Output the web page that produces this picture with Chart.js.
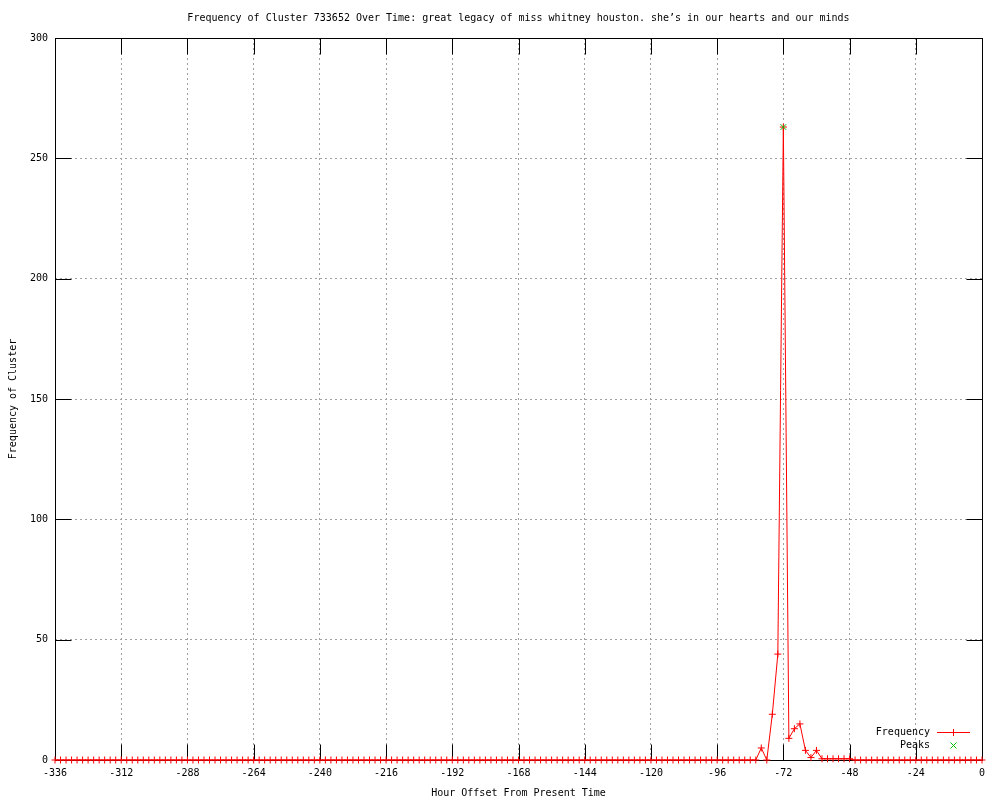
<!DOCTYPE html>
<html>
<head>
<meta charset="utf-8">
<title>Frequency of Cluster 733652</title>
<script src="https://cdn.jsdelivr.net/npm/chart.js@4.4.1/dist/chart.umd.min.js"></script>
<style>
    html, body { margin: 0; padding: 0; background: #fff; }
    #wrap { width: 1000px; height: 800px; }
</style>
</head>
<body>
<div id="wrap"><canvas id="freqChart" width="1000" height="800"></canvas></div>
<script>
// --- 1. DATA ---
const chartTitle = 'Frequency of Cluster 733652 Over Time: great legacy of miss whitney houston. she’s in our hearts and our minds';
const xTitle = 'Hour Offset From Present Time';
const yTitle = 'Frequency of Cluster';

// one sample every 2 hours, from -336 to 0
const hourStart = -336;
const hourEnd = 0;
const hourStep = 2;
const hours = [];
for (let h = hourStart; h <= hourEnd; h += hourStep) hours.push(h);

const frequency = [
    0, 0, 0, 0, 0, 0, 0, 0, 0, 0, 0, 0, 0, 0, 0, 0,
    0, 0, 0, 0, 0, 0, 0, 0, 0, 0, 0, 0, 0, 0, 0, 0,
    0, 0, 0, 0, 0, 0, 0, 0, 0, 0, 0, 0, 0, 0, 0, 0,
    0, 0, 0, 0, 0, 0, 0, 0, 0, 0, 0, 0, 0, 0, 0, 0,
    0, 0, 0, 0, 0, 0, 0, 0, 0, 0, 0, 0, 0, 0, 0, 0,
    0, 0, 0, 0, 0, 0, 0, 0, 0, 0, 0, 0, 0, 0, 0, 0,
    0, 0, 0, 0, 0, 0, 0, 0, 0, 0, 0, 0, 0, 0, 0, 0,
    0, 0, 0, 0, 0, 0, 0, 0, 0, 0, 0, 0, 0, 0, 0, 0,
    5, 0, 19, 44, 263, 9, 13, 15, 4, 1, 4, 0.5, 0.5, 0.5, 0.5, 0.5, 0.5,
    0, 0, 0, 0, 0, 0, 0, 0, 0, 0, 0, 0,
    0, 0, 0, 0, 0, 0, 0, 0, 0, 0, 0, 0
];

const peakHours = [-72];
const peakValues = [263];

const legendLabels = ['Frequency', 'Peaks'];

// --- 2. STYLE ---
const FONT = '"DejaVu Sans Mono", "Liberation Mono", monospace';
const RED = '#ff0000';
const GREEN = '#00c000';
const TICK = 16;

// frame + inward ticks on all four sides, like gnuplot
const frameTicks = {
    id: 'frameTicks',
    beforeDatasetsDraw(chart) {
        const { ctx, chartArea: a, scales: { x, y } } = chart;
        const L = Math.round(a.left) + 0.5, R = Math.round(a.right) + 0.5;
        const T = Math.round(a.top) + 0.5, B = Math.round(a.bottom) + 0.5;
        ctx.save();
        ctx.strokeStyle = '#000';
        ctx.lineWidth = 1;
        ctx.beginPath();
        x.ticks.forEach(t => {
            const px = Math.round(x.getPixelForValue(t.value)) + 0.5;
            ctx.moveTo(px, B); ctx.lineTo(px, B - TICK);
            ctx.moveTo(px, T); ctx.lineTo(px, T + TICK);
        });
        y.ticks.forEach(t => {
            const py = Math.round(y.getPixelForValue(t.value)) + 0.5;
            ctx.moveTo(L, py); ctx.lineTo(L + TICK, py);
            ctx.moveTo(R, py); ctx.lineTo(R - TICK, py);
        });
        ctx.stroke();
        ctx.strokeRect(L, T, R - L, B - T);
        ctx.restore();
    }
};

// key in the lower right corner of the plot
const keyBox = {
    id: 'keyBox',
    afterDatasetsDraw(chart) {
        const { ctx, chartArea: a } = chart;
        const textX = a.right - 52;
        const sx0 = a.right - 45, sx1 = a.right - 12, mx = a.right - 28.5;
        const y0 = a.bottom - 27.5, y1 = a.bottom - 14.5;
        ctx.save();
        ctx.font = '10px ' + FONT;
        ctx.fillStyle = '#000';
        ctx.textAlign = 'right';
        ctx.textBaseline = 'middle';
        ctx.fillText(legendLabels[0], textX, y0);
        ctx.fillText(legendLabels[1], textX, y1);

        ctx.lineWidth = 1;
        ctx.strokeStyle = RED;
        ctx.beginPath();
        ctx.moveTo(sx0, y0); ctx.lineTo(sx1, y0);
        ctx.moveTo(mx, y0 - 3.5); ctx.lineTo(mx, y0 + 3.5);
        ctx.stroke();

        ctx.strokeStyle = GREEN;
        ctx.beginPath();
        ctx.moveTo(mx - 3, y1 - 3); ctx.lineTo(mx + 3, y1 + 3);
        ctx.moveTo(mx - 3, y1 + 3); ctx.lineTo(mx + 3, y1 - 3);
        ctx.stroke();
        ctx.restore();
    }
};

// --- 3. CHART ---
const ctx = document.getElementById('freqChart').getContext('2d');

const chart = new Chart(ctx, {
    type: 'scatter',
    data: {
        datasets: [
            {
                label: legendLabels[0],
                data: hours.map((h, i) => ({ x: h, y: frequency[i] })),
                showLine: true,
                borderColor: RED,
                backgroundColor: RED,
                borderWidth: 1,
                tension: 0,
                pointStyle: 'cross',
                pointRadius: 3.5,
                pointBorderWidth: 1,
                pointBorderColor: RED,
                clip: false,
                order: 2
            },
            {
                label: legendLabels[1],
                data: peakHours.map((h, i) => ({ x: h, y: peakValues[i] })),
                showLine: false,
                borderColor: GREEN,
                backgroundColor: GREEN,
                pointStyle: 'crossRot',
                pointRadius: 4,
                pointBorderWidth: 1,
                clip: false,
                order: 1
            }
        ]
    },
    options: {
        responsive: false,
        animation: false,
        events: [],
        layout: { padding: { left: 0, right: 18, top: 0, bottom: 0 } },
        scales: {
            x: {
                type: 'linear',
                min: hourStart,
                max: hourEnd,
                afterFit: s => { s.height = 40; },
                ticks: {
                    stepSize: 24,
                    color: '#000',
                    padding: 7,
                    maxRotation: 0,
                    font: { family: FONT, size: 10 },
                    callback: v => String(v)
                },
                grid: { color: '#a0a0a0', lineWidth: 1, drawTicks: false },
                border: { display: false, dash: [2, 3] },
                title: {
                    display: true,
                    text: xTitle,
                    color: '#000',
                    font: { family: FONT, size: 10 },
                    padding: { top: 0, bottom: 1 }
                }
            },
            y: {
                min: 0,
                max: 300,
                afterFit: s => { s.width = 55; },
                ticks: {
                    stepSize: 50,
                    color: '#000',
                    padding: 7,
                    font: { family: FONT, size: 10 }
                },
                grid: { color: '#a0a0a0', lineWidth: 1, drawTicks: false },
                border: { display: false, dash: [2, 3] },
                title: {
                    display: true,
                    text: yTitle,
                    color: '#000',
                    font: { family: FONT, size: 10 },
                    padding: { top: 7, bottom: 0 }
                }
            }
        },
        plugins: {
            legend: { display: false },
            tooltip: { enabled: false },
            title: {
                display: true,
                text: chartTitle,
                color: '#000',
                fullSize: false,
                font: { family: FONT, size: 10, weight: 'normal' },
                padding: { top: 12, bottom: 14 }
            }
        }
    },
    plugins: [frameTicks, keyBox]
});
</script>
</body>
</html>
